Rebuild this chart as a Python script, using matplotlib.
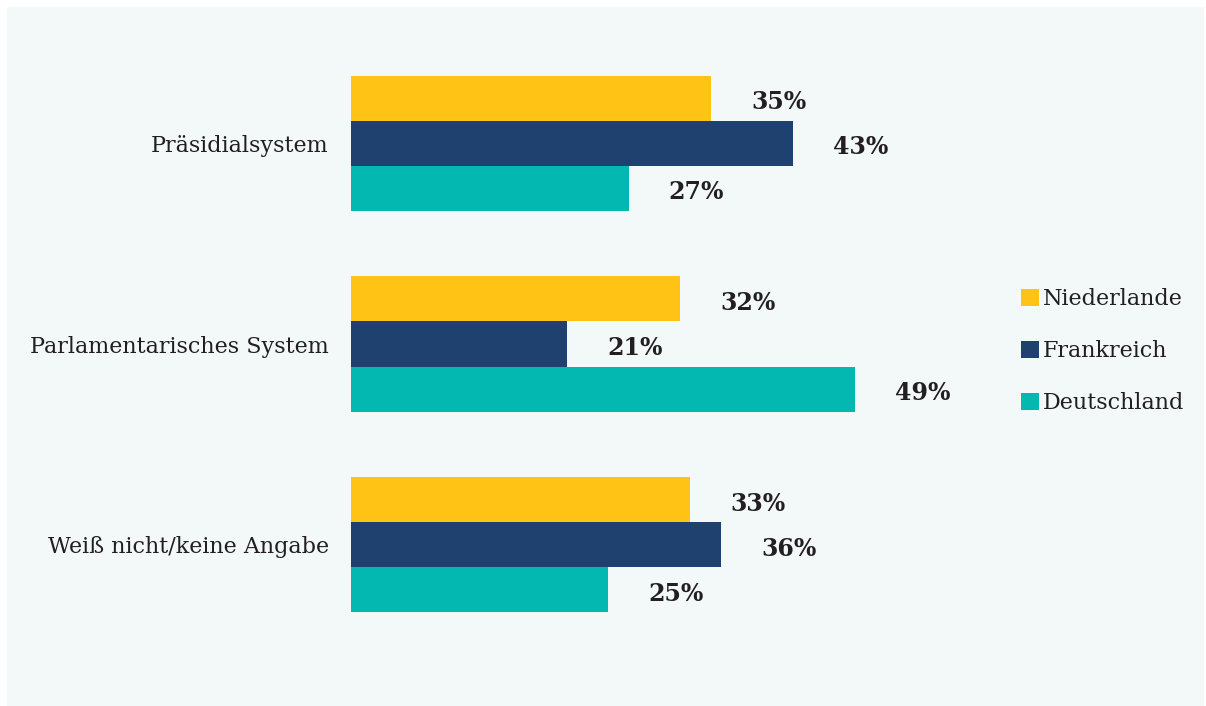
import numpy as np
import matplotlib
matplotlib.use('Agg')
import matplotlib.pyplot as plt
from matplotlib.patches import Rectangle

# data
categories = ['Präsidialsystem', 'Parlamentarisches System', 'Weiß nicht/keine Angabe']
series = ['Niederlande', 'Frankreich', 'Deutschland']
niederlande = [35, 32, 33]
frankreich = [43, 21, 36]
deutschland = [27, 49, 25]
colors = ['#fec314', '#1f4170', '#03b8b0']

plt.rcParams['font.family'] = ['DejaVu Serif']
text_col = '#231f20'

fig = plt.figure(figsize=(12.06, 7.06), dpi=100)
fig.patch.set_facecolor('white')
# light panel behind the chart
fig.patches.append(Rectangle((7 / 1206, 0), 1197 / 1206, 699 / 706,
                             transform=fig.transFigure, facecolor='#f3f9f9',
                             edgecolor='none', zorder=-10))

ax = fig.add_axes([351 / 1206, 61 / 706, 617 / 1206, 602 / 706])
ax.set_facecolor('none')

y = np.arange(len(categories))
h = 0.225
values = [niederlande, frankreich, deutschland]
for i, (name, vals, c) in enumerate(zip(series, values, colors)):
    pos = y + (i - 1) * h
    ax.barh(pos, vals, height=h, color=c, label=name)
    for p, v in zip(pos, vals):
        ax.text(v + 6.6, p + 0.02, f'{v}%', ha='center', va='center',
                fontsize=17, fontweight='bold', color=text_col)

ax.set_xlim(0, 60)
ax.set_ylim(2.5, -0.5)
ax.set_yticks(y)
ax.set_yticklabels(categories, fontsize=16, color=text_col)
ax.tick_params(axis='y', length=0, pad=16)
ax.set_xticks([])
for s in ax.spines.values():
    s.set_visible(False)

leg = fig.legend(loc='center left', bbox_to_anchor=(1012 / 1206, 1 - 351 / 706),
                 frameon=False, fontsize=16, handlelength=0.8, handleheight=0.8,
                 handletextpad=0.2, labelspacing=1.35, borderaxespad=0)
for t in leg.get_texts():
    t.set_color(text_col)

fig.savefig('out.png', dpi=100)
